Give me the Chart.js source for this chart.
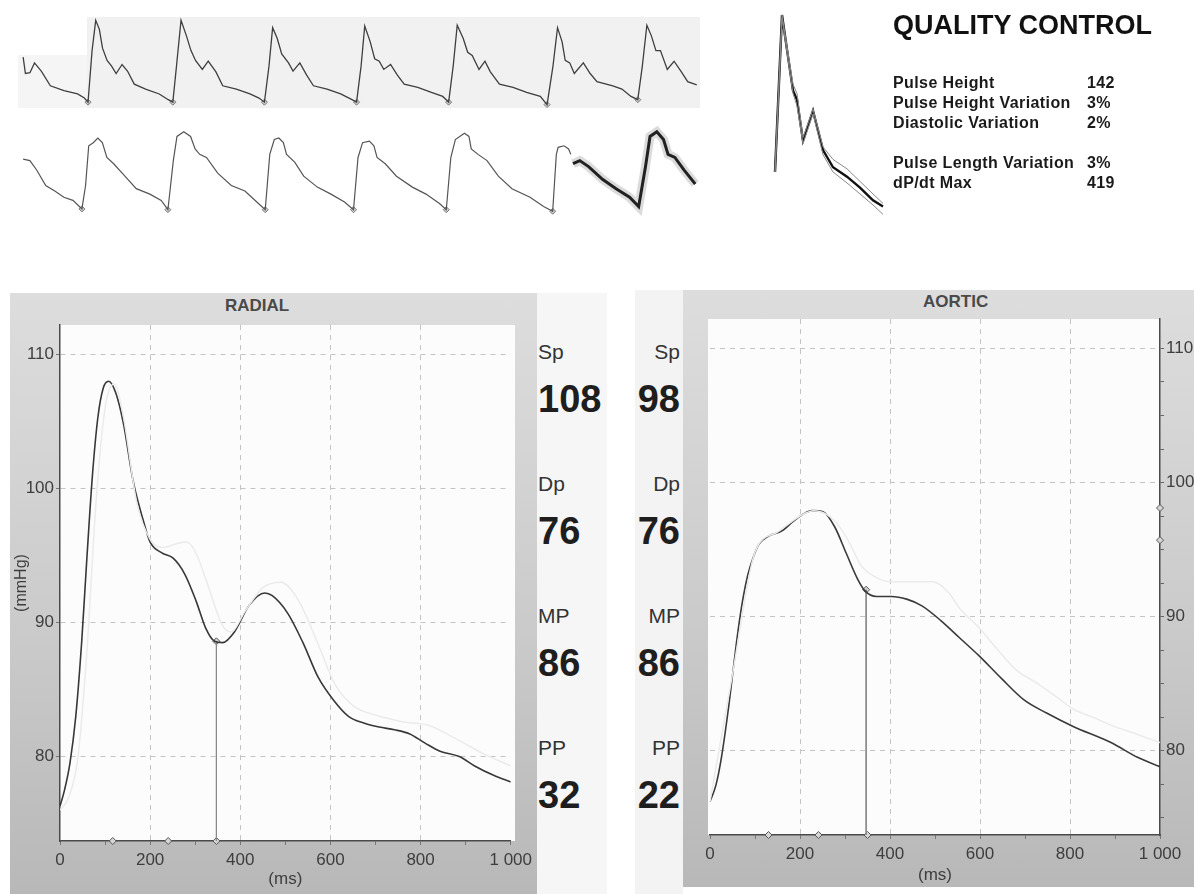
<!DOCTYPE html>
<html>
<head>
<meta charset="utf-8">
<title>Pulse wave analysis</title>
<script src="https://cdn.jsdelivr.net/npm/chart.js@4.4.1/dist/chart.umd.min.js"></script>
<style>
  body { margin: 0; width: 1194px; height: 894px; position: relative; overflow: hidden; background: #fff;
         font-family: "Liberation Sans", Arial, sans-serif; color: #222; }
  .abs { position: absolute; }
  canvas { position: absolute; }
  .panel { position: absolute; background: linear-gradient(180deg, #dddddd 0%, #cbcbcb 55%, #b8b8b8 100%); }
  .plot { position: absolute; background: #fcfcfc; }
  .ptitle { position: absolute; font-weight: bold; font-size: 17px; color: #4a4a4a; }
  .lab { position: absolute; font-size: 21px; line-height: 21px; color: #333; }
  .val { position: absolute; font-size: 38px; line-height: 38px; font-weight: bold; color: #1e1e1e; }
  #qc { position: absolute; left: 893px; top: 0; }
  #qc .head { position: absolute; left: 0; top: 12px; font-size: 27px; line-height: 27px; font-weight: bold; white-space: nowrap; color: #111; }
  #qc .row { position: absolute; left: 0; font-size: 16px; line-height: 16px; font-weight: bold; letter-spacing: 0.4px; white-space: nowrap; color: #1a1a1a; }
  #qc .num { position: absolute; left: 194px; }
</style>
</head>
<body>

<!-- capture strip -->
<div class="abs" style="left:87px;top:17px;width:613px;height:91px;background:#f1f1f1"></div>
<div class="abs" style="left:18px;top:55px;width:69px;height:53px;background:#f5f5f5"></div>
<canvas id="stripTop" width="720" height="120" style="left:0;top:0"></canvas>
<canvas id="stripBottom" width="720" height="120" style="left:0;top:110px"></canvas>
<canvas id="qcChart" width="130" height="205" style="left:765px;top:10px"></canvas>
<div id="qc"></div>

<!-- radial panel -->
<div class="panel" style="left:10px;top:293px;width:527px;height:601px"></div>
<div class="plot" style="left:60px;top:325px;width:455px;height:516px"></div>
<div class="abs" style="left:537px;top:293px;width:70px;height:601px;background:#f6f6f6"></div>
<div class="ptitle" style="left:225px;top:296px">RADIAL</div>
<canvas id="radialChart" width="527" height="601" style="left:10px;top:293px"></canvas>

<!-- aortic panel -->
<div class="abs" style="left:635px;top:290px;width:48px;height:604px;background:#f3f3f3"></div>
<div class="panel" style="left:683px;top:290px;width:511px;height:597px"></div>
<div class="plot" style="left:708px;top:319px;width:452px;height:516px"></div>
<div class="ptitle" style="left:923px;top:292px">AORTIC</div>
<canvas id="aorticChart" width="511" height="597" style="left:683px;top:290px"></canvas>

<div id="values"></div>

<script>
// ---- averaged waveforms (time in ms, pressure in mmHg) ----
const radialTimes = [0, 10, 22, 35, 48, 60, 72, 84, 96, 108, 124, 141, 162, 184, 200, 226, 251, 277, 302, 323, 343, 361, 387, 420, 454, 471, 505, 539, 573, 607, 640, 674, 708, 742, 775, 810, 843, 886, 920, 962, 1000];
const radialPressure = [76.3, 77.5, 79.5, 83.0, 88.5, 95.0, 101.0, 105.3, 107.5, 108.0, 107.1, 104.8, 100.6, 97.7, 96.0, 95.2, 94.8, 93.6, 91.6, 89.6, 88.6, 88.5, 89.3, 91.3, 92.2, 92.0, 90.7, 88.5, 85.9, 84.2, 83.0, 82.5, 82.2, 82.0, 81.7, 81.0, 80.4, 80.0, 79.3, 78.6, 78.1];
const radialGhostTimes = [0, 20, 40, 60, 80, 100, 120, 140, 170, 200, 230, 260, 280, 300, 330, 360, 380, 410, 450, 490, 530, 570, 610, 650, 700, 760, 820, 880, 940, 1000];
const radialGhostPressure = [76.0, 77.0, 80.0, 88.0, 99.0, 106.0, 107.8, 105.5, 99.0, 96.2, 95.6, 95.9, 96.0, 95.3, 92.6, 89.8, 89.3, 90.8, 92.6, 93.0, 91.6, 88.6, 85.4, 83.8, 83.1, 82.6, 82.3, 81.3, 80.2, 79.3];

const aorticTimes = [0, 13, 25, 42, 59, 71, 84, 97, 109, 130, 160, 185, 210, 227, 252, 277, 303, 328, 345, 370, 403, 437, 471, 513, 555, 597, 647, 697, 748, 807, 891, 950, 1000];
const aorticPressure = [76.2, 77.4, 79.4, 83.4, 88.1, 90.9, 93.1, 94.5, 95.4, 96.0, 96.4, 97.1, 97.7, 97.9, 97.8, 96.7, 94.7, 92.8, 91.9, 91.5, 91.5, 91.3, 90.8, 89.7, 88.4, 87.1, 85.4, 83.8, 82.8, 81.8, 80.6, 79.5, 78.8];
const aorticGhostTimes = [0, 50, 100, 150, 200, 230, 260, 290, 310, 336, 370, 400, 440, 496, 530, 555, 597, 640, 681, 723, 770, 807, 850, 891, 950, 1000];
const aorticGhostPressure = [76.2, 85.7, 94.8, 96.3, 97.5, 97.9, 97.6, 96.6, 95.5, 93.8, 92.9, 92.6, 92.6, 92.6, 91.8, 90.6, 89.2, 87.5, 86.0, 85.1, 84.0, 83.1, 82.5, 81.9, 81.2, 80.6];

// markers (ms / mmHg)
const radialMarkTimes = [117, 240, 347];
const radialNotch = { t: 347, p: 88.6 };
const aorticMarkTimes = [130, 241, 350];
const aorticNotch = { t: 347, p: 92.0 };
const aorticSideMarks = [98.1, 95.7];

// axes
const pressureRange = [73.7, 112.2];
const pressureTicks = [80, 90, 100, 110];
const timeLabelValues = [0, 200, 400, 600, 800, 1000];
const timeLabels = ["0", "200", "400", "600", "800", "1 000"];

// summary values
const valueNames = ["Sp", "Dp", "MP", "PP"];
const radialValues = [108, 76, 86, 32];
const aorticValues = [98, 76, 86, 22];

// quality control
const qcNames = ["Pulse Height", "Pulse Height Variation", "Diastolic Variation", "Pulse Length Variation", "dP/dt Max"];
const qcValues = ["142", "3%", "2%", "3%", "419"];

// ---- capture strip (time in ms, amplitude in % of pulse height) ----
const topStripTimes = [184, 207, 253, 299, 368, 460, 598, 736, 805, 842, 883, 920,
  957, 989, 1035, 1081, 1127, 1187, 1242, 1311, 1426, 1564, 1656, 1702, 1739, 1785,
  1840, 1886, 1932, 2001, 2061, 2139, 2208, 2346, 2484, 2576, 2631, 2677, 2714,
  2760, 2806, 2875, 2921, 2990, 3059, 3128, 3266, 3404, 3519, 3565, 3611, 3648,
  3703, 3749, 3795, 3841, 3910, 3979, 4048, 4186, 4324, 4439, 4499, 4545, 4586,
  4646, 4692, 4738, 4807, 4867, 4922, 5014, 5152, 5290, 5428, 5497, 5557, 5603,
  5649, 5681, 5727, 5773, 5865, 5934, 6003, 6164, 6256, 6348, 6417, 6463, 6509,
  6555, 6601, 6647, 6716, 6785, 6854, 6923, 7015];
const topStripAmp = [55, 35, 36, 48, 38, 20, 14, 10, 5, 0, 63, 100,
  89, 66, 51, 44, 35, 46, 38, 22, 16, 10, 3, 0, 44, 100,
  81, 63, 51, 40, 50, 37, 20, 16, 10, 5, 0, 44, 91,
  78, 59, 48, 38, 48, 33, 20, 16, 10, 3, 0, 44, 93,
  74, 53, 50, 40, 46, 33, 22, 18, 12, 7, 0, 44, 94,
  78, 61, 57, 40, 50, 37, 22, 18, 12, 7, -3, 44, 91,
  74, 51, 48, 35, 48, 35, 25, 20, 16, 7, 3, 44, 94,
  81, 63, 63, 40, 50, 38, 25, 21];
const topFootTimes = [842, 1702, 2631, 3565, 4499, 5497, 6417];
const topFootAmp = [0, 0, 0, 0, 0, -3, 3];

const bottomStripTimes = [184, 252, 321, 413, 505, 597, 689, 780,
  817, 849, 895, 941, 987, 1033, 1102, 1216, 1331, 1469, 1584, 1652,
  1707, 1744, 1813, 1882, 1928, 1974, 2043, 2157, 2295, 2433, 2570, 2639,
  2685, 2731, 2777, 2823, 2855, 2938, 3029, 3167, 3305, 3443, 3534,
  3580, 3626, 3695, 3741, 3773, 3856, 3970, 4131, 4269, 4406, 4475,
  4521, 4567, 4659, 4705, 4728, 4797, 4888, 5003, 5141, 5324, 5462, 5554,
  5591, 5609, 5669, 5715, 5738];
const bottomStripAmp = [65, 63, 51, 31, 24, 16, 12, 1,
  31, 82, 86, 92, 86, 67, 59, 43, 27, 20, 12, 0,
  63, 94, 100, 94, 78, 71, 67, 47, 31, 24, 8, 0,
  71, 90, 92, 86, 71, 61, 43, 29, 20, 10, 0,
  67, 86, 88, 82, 67, 59, 43, 29, 20, 8, 0,
  67, 90, 98, 94, 78, 71, 63, 43, 27, 16, 4, -2,
  71, 80, 82, 78, 71];
const bottomFootTimes = [780, 1652, 2639, 3534, 4475, 5554];
const bottomFootAmp = [1, 0, 0, 0, 0, -2];
const avgTimes = [5760, 5829, 5921, 6059, 6197, 6334, 6426, 6495, 6541, 6610, 6678, 6724, 6793, 6885, 7000];
const avgAmp = [59, 63, 55, 39, 27, 16, 4, 55, 94, 100, 90, 71, 67, 51, 33];

// superimposed pulses in the quality control box
const qcTimes = [0, 56, 96, 144, 176, 224, 304, 384, 464, 576, 680, 784, 864];
const qcMain = [0, 100, 78, 52, 46, 20, 39, 14, 3, -3, -10, -18, -22];
const qcUpper = [0, 100, 80, 56, 50, 22, 40, 16, 8, 2, -6, -14, -20];
const qcLower = [0, 98, 76, 50, 42, 18, 37, 11, 0, -7, -14, -21, -27];

Chart.defaults.font.family = '"Liberation Sans", Arial, sans-serif';

function toPoints(xs, ys) {
  return xs.map((x, i) => ({ x: x, y: ys[i] }));
}

function stripOptions(xMin, xMax, yMin, yMax) {
  return {
    responsive: false,
    animation: false,
    events: [],
    layout: { padding: 0 },
    plugins: { legend: { display: false }, tooltip: { enabled: false } },
    scales: {
      x: { type: "linear", display: false, min: xMin, max: xMax },
      y: { type: "linear", display: false, min: yMin, max: yMax },
    },
  };
}

const footStyle = { showLine: false, pointStyle: "rectRot", pointRadius: 3, pointBackgroundColor: "#d0d0d0", pointBorderColor: "#777", pointBorderWidth: 1 };

new Chart(document.getElementById("stripTop"), {
  type: "line",
  data: {
    datasets: [
      { data: toPoints(topStripTimes, topStripAmp), borderColor: "#3f3f3f", borderWidth: 1.3, pointRadius: 0 },
      Object.assign({ data: toPoints(topFootTimes, topFootAmp) }, footStyle),
    ],
  },
  options: stripOptions(0, 7200, -15.7, 118.7),
});

new Chart(document.getElementById("stripBottom"), {
  type: "line",
  data: {
    datasets: [
      { data: toPoints(bottomStripTimes, bottomStripAmp), borderColor: "#555", borderWidth: 1.2, pointRadius: 0 },
      { data: toPoints(avgTimes, avgAmp), borderColor: "rgba(90,90,90,0.22)", borderWidth: 9, pointRadius: 0 },
      { data: toPoints(avgTimes, avgAmp), borderColor: "#111", borderWidth: 3, pointRadius: 0 },
      Object.assign({ data: toPoints(bottomFootTimes, bottomFootAmp) }, footStyle),
    ],
  },
  options: stripOptions(0, 7200, -19.6, 121.5),
});

new Chart(document.getElementById("qcChart"), {
  type: "line",
  data: {
    datasets: [
      { data: toPoints(qcTimes, qcUpper), borderColor: "#8a8a8a", borderWidth: 1, pointRadius: 0 },
      { data: toPoints(qcTimes, qcLower), borderColor: "#8a8a8a", borderWidth: 1, pointRadius: 0 },
      { data: toPoints(qcTimes, qcMain), borderColor: "#111", borderWidth: 2.4, pointRadius: 0 },
    ],
  },
  options: stripOptions(-80, 960, -27.4, 103.2),
});

// ---- pressure charts ----
const gridColor = "#c4c4c4";
const textColor = "#3e3e3e";
const ghostColor = "#ebebeb";
const minorTimes = [];
for (let t = 0; t <= 1000; t += 100) minorTimes.push(t);

function timeAxis(height, titlePad) {
  return {
    type: "linear",
    min: 0,
    max: 1000,
    afterBuildTicks: (s) => { s.ticks = minorTimes.map((v) => ({ value: v })); },
    afterFit: (s) => { s.height = height; },
    grid: {
      color: (c) => (c.tick && c.tick.value > 0 && c.tick.value < 1000 && c.tick.value % 200 === 0 ? gridColor : "transparent"),
      tickColor: "#777",
      tickLength: 4,
      lineWidth: 1,
    },
    border: { color: "#4a4a4a", width: 1.5, dash: [5, 5] },
    ticks: {
      autoSkip: false,
      maxRotation: 0,
      padding: 5,
      color: textColor,
      font: { size: 17 },
      callback: (v) => { const i = timeLabelValues.indexOf(v); return i >= 0 ? timeLabels[i] : ""; },
    },
    title: { display: true, text: "(ms)", color: textColor, font: { size: 17 }, padding: { top: 0, bottom: titlePad } },
  };
}

function markerSets(curveColor, times, pressure, ghostTimes, ghostPressure, notch, marks) {
  return [
    { data: toPoints(ghostTimes, ghostPressure), borderColor: ghostColor, borderWidth: 1.5, pointRadius: 0, cubicInterpolationMode: "monotone" },
    { data: toPoints(times, pressure), borderColor: curveColor, borderWidth: 1.6, pointRadius: 0, cubicInterpolationMode: "monotone" },
    { data: [{ x: notch.t, y: notch.p }, { x: notch.t, y: pressureRange[0] }], borderColor: "#8a8a8a", borderWidth: 1, pointRadius: 0 },
    { data: [{ x: notch.t, y: notch.p }].concat(marks.map((t) => ({ x: t, y: pressureRange[0] }))),
      showLine: false, pointStyle: "rectRot", pointRadius: 3.5, pointBackgroundColor: "#d6d6d6", pointBorderColor: "#555", pointBorderWidth: 1, clip: false },
  ];
}

new Chart(document.getElementById("radialChart"), {
  type: "line",
  data: { datasets: markerSets("#383838", radialTimes, radialPressure, radialGhostTimes, radialGhostPressure, radialNotch, radialMarkTimes) },
  options: {
    responsive: false,
    animation: false,
    events: [],
    layout: { padding: { left: 0, top: 32, right: 22, bottom: 0 } },
    plugins: { legend: { display: false }, tooltip: { enabled: false } },
    scales: {
      x: timeAxis(53, 4),
      y: {
        type: "linear",
        position: "left",
        min: pressureRange[0],
        max: pressureRange[1],
        afterBuildTicks: (s) => { s.ticks = pressureTicks.map((v) => ({ value: v })); },
        afterFit: (s) => { s.width = 50; },
        grid: { color: gridColor, tickColor: "#777", tickLength: 4 },
        border: { color: "#4a4a4a", width: 1.5, dash: [5, 5] },
        ticks: { padding: 2, color: textColor, font: { size: 17 } },
        title: { display: true, text: "(mmHg)", color: textColor, font: { size: 16 }, padding: { top: 2, bottom: 0 } },
      },
    },
  },
});

const aorticMinor = [];
for (let p = 75; p <= 110; p += 2.5) aorticMinor.push(p);
const aorticSets = markerSets("#3a3a3a", aorticTimes, aorticPressure, aorticGhostTimes, aorticGhostPressure, aorticNotch, aorticMarkTimes);
aorticSets.push({
  data: aorticSideMarks.map((p) => ({ x: 1000, y: p })),
  showLine: false, pointStyle: "rectRot", pointRadius: 3.5, pointBackgroundColor: "#d6d6d6", pointBorderColor: "#555", pointBorderWidth: 1, clip: false,
});

new Chart(document.getElementById("aorticChart"), {
  type: "line",
  data: { datasets: aorticSets },
  options: {
    responsive: false,
    animation: false,
    events: [],
    layout: { padding: { left: 27, top: 29, right: 0, bottom: 0 } },
    plugins: { legend: { display: false }, tooltip: { enabled: false } },
    scales: {
      x: timeAxis(52, 1),
      y: {
        type: "linear",
        position: "right",
        min: pressureRange[0],
        max: pressureRange[1],
        afterBuildTicks: (s) => { s.ticks = aorticMinor.map((v) => ({ value: v })); },
        afterFit: (s) => { s.width = 34; },
        grid: {
          color: (c) => (c.tick && pressureTicks.includes(c.tick.value) ? gridColor : "transparent"),
          tickColor: "#666",
          tickLength: 4,
        },
        border: { color: "#4a4a4a", width: 1.5, dash: [5, 5] },
        ticks: {
          padding: 2,
          color: textColor,
          font: { size: 17 },
          callback: (v) => (pressureTicks.includes(v) ? String(v) : ""),
        },
      },
    },
  },
});

// ---- text blocks ----
let html = "";
for (let i = 0; i < valueNames.length; i++) {
  const labTop = 341 + i * 132;
  const valTop = 380 + i * 132;
  html += '<div class="lab" style="left:538px;top:' + labTop + 'px">' + valueNames[i] + "</div>";
  html += '<div class="val" style="left:538px;top:' + valTop + 'px">' + radialValues[i] + "</div>";
  html += '<div class="lab" style="left:600px;width:80px;text-align:right;top:' + labTop + 'px">' + valueNames[i] + "</div>";
  html += '<div class="val" style="left:580px;width:100px;text-align:right;top:' + valTop + 'px">' + aorticValues[i] + "</div>";
}
document.getElementById("values").innerHTML = html;

let qcHtml = '<div class="head">QUALITY CONTROL</div>';
const qcRowTops = [75, 95, 115, 155, 175];
for (let i = 0; i < qcNames.length; i++) {
  qcHtml += '<div class="row" style="top:' + qcRowTops[i] + 'px">' + qcNames[i] + '<span class="num">' + qcValues[i] + "</span></div>";
}
document.getElementById("qc").innerHTML = qcHtml;
</script>
</body>
</html>
